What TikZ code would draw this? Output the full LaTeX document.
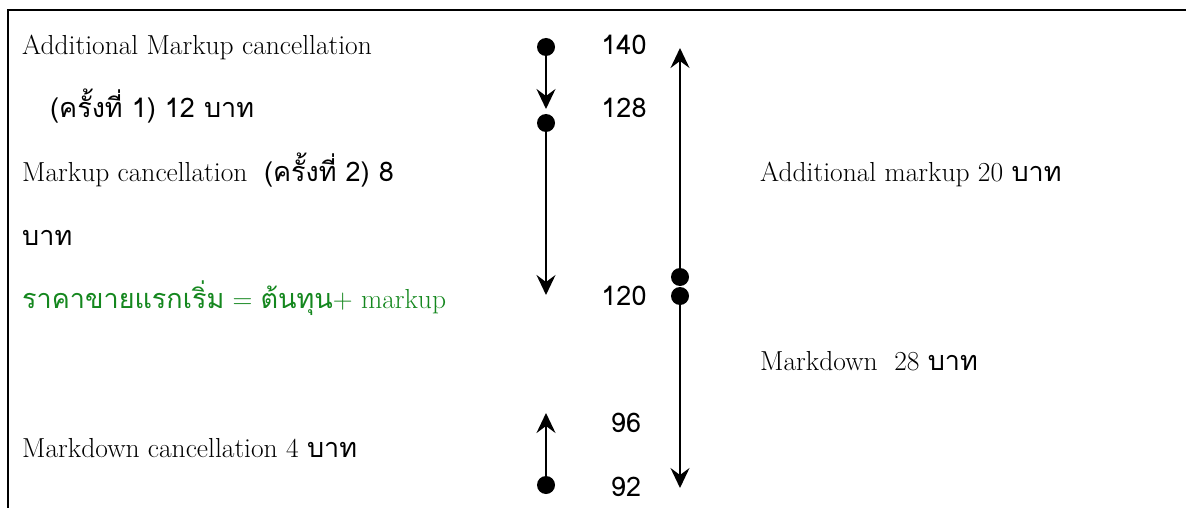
\documentclass[tikz,border=0pt]{standalone}
\usepackage{fontspec}
\newfontfamily\thai[Script=Thai]{Loma}
\newcommand\tht[1]{{\thai\fontsize{27}{32}\selectfont #1}}
\usetikzlibrary{arrows.meta}
\definecolor{tgreen}{RGB}{20,135,30}
\begin{document}
\begin{tikzpicture}[x=1pt,y=-1pt,
  lbl/.style={font=\fontsize{27.5}{32}\selectfont, inner sep=0pt, anchor=base west},
  num/.style={font=\thai\fontsize{27}{30}\selectfont, inner sep=0pt, anchor=base},
  dot/.style={circle, fill=black, inner sep=0pt, minimum size=18pt},
  conn/.style={line width=2pt, -{Stealth[length=20pt,width=19pt,inset=7pt]}}
]
\useasboundingbox (0,0) rectangle (1186,508);
% frame
\draw[line width=2.5pt] (8,508) -- (8,10) -- (1186,10);
% left texts
\node[lbl] (t1) at (22,55) {Additional Markup cancellation};
\node[lbl] (t2) at (50,118) {\tht{(ครั้งที่ 1) 12 บาท}};
\node[lbl] (t3) at (22,182) {Markup cancellation\ \ \tht{(ครั้งที่ 2) 8}};
\node[lbl] (t4) at (22,245) {\tht{บาท}};
\node[lbl, text=tgreen] (t5) at (22,308) {\tht{ราคาขายแรกเริ่ม} = \tht{ต้นทุน}+ markup};
\node[lbl] (t6) at (22,457) {Markdown cancellation 4 \tht{บาท}};
% right texts
\node[lbl] (r1) at (760,182) {Additional markup 20 \tht{บาท}};
\node[lbl] (r2) at (760,370) {Markdown\ \ 28 \tht{บาท}};
% numbers
\node[num] (n140) at (624,55) {140};
\node[num] (n128) at (624,118) {128};
\node[num] (n120) at (624,305) {120};
\node[num] (n96) at (626,432) {96};
\node[num] (n92) at (626,496) {92};
% dots
\node[dot] (d140) at (546,47) {};
\node[dot] (d128) at (546,123) {};
\node[dot] (d92) at (546,485) {};
\node[dot] (e1) at (680,277) {};
\node[dot] (e2) at (680,296) {};
% arrow ends
\coordinate (a1) at (546,109);
\coordinate (a2) at (546,295);
\coordinate (a3) at (546,413);
\coordinate (a4) at (680,48);
\coordinate (a5) at (680,488);
% connectors
\draw[conn] (d140.center) -- (a1);
\draw[conn] (d128.center) -- (a2);
\draw[conn] (d92.center) -- (a3);
\draw[conn] (e1.center) -- (a4);
\draw[conn] (e2.center) -- (a5);
\end{tikzpicture}
\end{document}
